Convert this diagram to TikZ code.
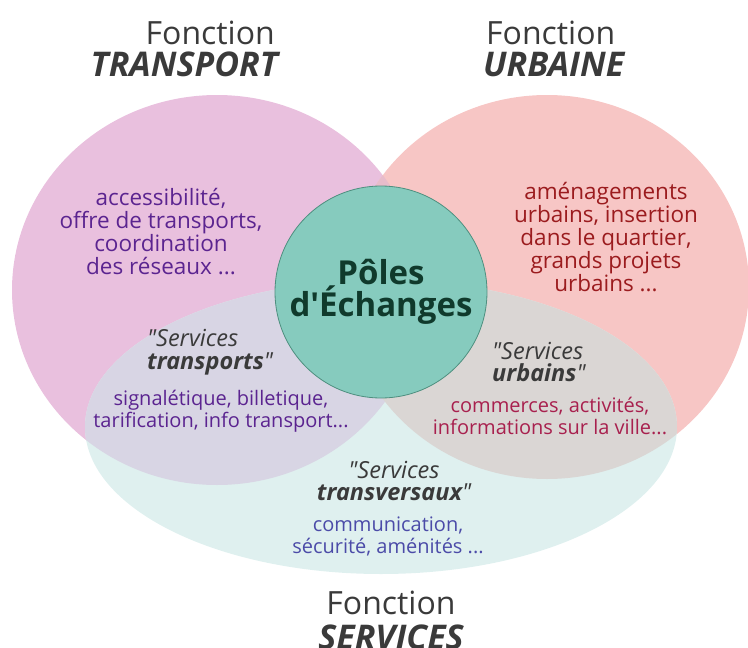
\documentclass[tikz,border=0pt]{standalone}
\usepackage{fontspec}
\setmainfont{Open Sans}
\definecolor{pinkc}{HTML}{E9C0DE}
\definecolor{salmonc}{HTML}{F7C6C5}
\definecolor{cyanc}{HTML}{DFF0EF}
\definecolor{lavc}{HTML}{D8D5E4}
\definecolor{greyc}{HTML}{DAD6D4}
\definecolor{mauvec}{HTML}{E7BCCB}
\definecolor{polec}{HTML}{86CBBE}
\definecolor{poleborder}{HTML}{4E8F7F}
\definecolor{poletext}{HTML}{103A2C}
\definecolor{titlec}{HTML}{3A3A3A}
\definecolor{purplec}{HTML}{5B2490}
\definecolor{redc}{HTML}{9B1B1E}
\definecolor{crimsonc}{HTML}{A8204E}
\definecolor{bluec}{HTML}{4B4BA8}
\newcommand{\dq}{\textquotedbl}
\begin{document}
\begin{tikzpicture}[x=1pt,y=-1pt,
  title/.style={text=titlec,font=\fontsize{32}{32}\selectfont,inner sep=0pt},
  titlebold/.style={text=titlec,font=\fontsize{34}{34}\selectfont\bfseries\itshape,inner sep=0pt},
  body/.style={align=center,font=\fontsize{22.5}{23}\selectfont,inner sep=0pt},
  sbody/.style={align=center,font=\fontsize{20}{22}\selectfont,inner sep=0pt},
  serv/.style={align=left,text=titlec,font=\fontsize{23.5}{22.5}\selectfont,inner sep=0pt},
  servc/.style={align=center,text=titlec,font=\fontsize{23.5}{22.5}\selectfont,inner sep=0pt}]
\useasboundingbox (0,0) rectangle (748,648);
\clip (0,0) rectangle (748,648);
\def\pinkpath{(217,290) ellipse [x radius=205pt, y radius=195pt]}
\def\salmonpath{(547,287) ellipse [x radius=202pt, y radius=192pt]}
\def\servpath{(381,427) ellipse [x radius=296pt, y radius=147pt]}
% base circles
\fill[pinkc] \pinkpath;
\fill[salmonc] \salmonpath;
\begin{scope}
  \clip \pinkpath;
  \fill[mauvec] \salmonpath;
\end{scope}
% services ellipse
\fill[cyanc] \servpath;
\begin{scope}
  \clip \servpath;
  \fill[lavc] \pinkpath;
  \fill[greyc] \salmonpath;
\end{scope}
% central pole
\node[circle,minimum size=212pt,fill=polec,draw=poleborder,line width=0.8pt,
      align=center,text=poletext,font=\fontsize{33}{31}\selectfont\bfseries,inner sep=0pt]
  (pole) at (381,292) {Pôles\\d\textquotesingle Échanges};
% titles
\node[title,anchor=east] (ft) at (275,33) {Fonction};
\node[titlebold,anchor=east] (tt) at (278,64) {TRANSPORT};
\node[title,anchor=west] (fu) at (486,33) {Fonction};
\node[titlebold,anchor=west] (tu) at (483,64) {URBAINE};
\node[title] (fs) at (391,603) {Fonction};
\node[titlebold] (ts) at (391,637) {SERVICES};
% zone texts
\node[body,text=purplec] (tr) at (161,232)
  {accessibilité,\\offre de transports,\\coordination\\des réseaux ...};
\node[body,text=redc] (ur) at (606,237)
  {aménagements\\urbains, insertion\\dans le quartier,\\grands projets\\urbains ...};
\node[serv,anchor=west] (st) at (147,352)
  {\itshape\dq Services\\\bfseries\itshape transports\mdseries\dq};
\node[sbody,text=purplec] (stb) at (221,411)
  {signalétique, billetique,\\tarification, info transport...};
\node[serv,anchor=west] (su) at (492,362)
  {\itshape\dq Services\\\bfseries\itshape urbains\mdseries\dq};
\node[sbody,text=crimsonc] (sub) at (550,416)
  {commerces, activités,\\informations sur la ville...};
\node[servc] (sv) at (394,481)
  {\itshape\dq Services\\\bfseries\itshape transversaux\mdseries\dq};
\node[sbody,text=bluec] (svb) at (388,536)
  {communication,\\sécurité, aménités ...};
\end{tikzpicture}
\end{document}
